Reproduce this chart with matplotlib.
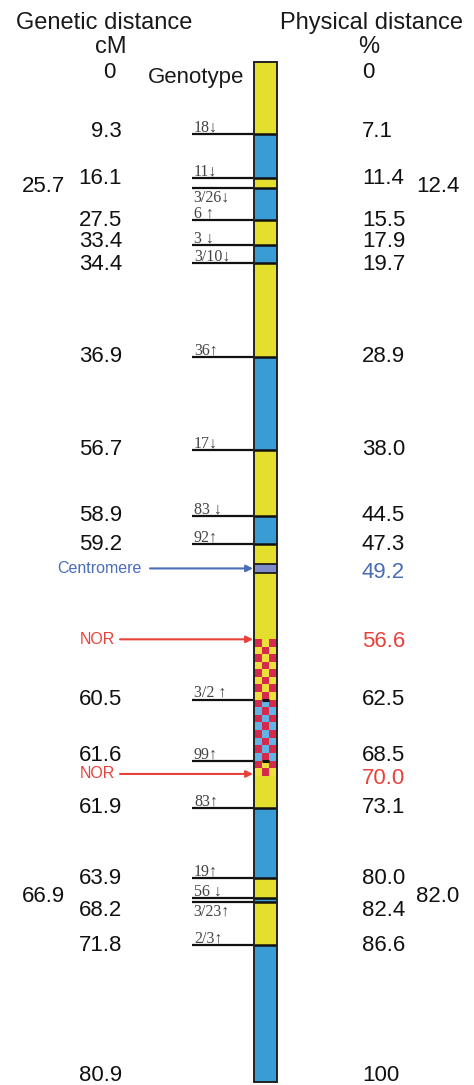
import matplotlib
matplotlib.use("Agg")
import matplotlib.pyplot as plt
import numpy as np
from matplotlib.colors import ListedColormap

# ---------------- data ----------------
# genotype segments along the chromosome (physical %)
seg_start = [0, 7.1, 11.4, 12.4, 15.5, 17.9, 19.7, 28.9, 38.0, 44.5, 47.3,
             56.6, 62.5, 68.5, 70.0, 73.1, 80.0, 82.0, 82.4, 86.6]
seg_end = [7.1, 11.4, 12.4, 15.5, 17.9, 19.7, 28.9, 38.0, 44.5, 47.3, 56.6,
           62.5, 68.5, 70.0, 73.1, 80.0, 82.0, 82.4, 86.6, 100]
seg_type = ['Y', 'B', 'Y', 'B', 'Y', 'B', 'Y', 'B', 'Y', 'B', 'Y',
            'NY', 'NB', 'NY', 'Y', 'B', 'Y', 'B', 'Y', 'B']

# markers (physical %) and their labels
marker_pos = [7.1, 11.4, 12.4, 15.5, 17.9, 19.7, 28.9, 38.0, 44.5, 47.3,
              62.5, 68.5, 73.1, 80.0, 82.0, 82.4, 86.6]
marker_label = ['18\u2193', '11\u2193', '3/26\u2193', '6 \u2191', '3 \u2193', '3/10\u2193',
                '36\u2191', '17\u2193', '83 \u2193', '92\u2191', '3/2 \u2191', '99\u2191',
                '83\u2191', '19\u2191', '56 \u2193', '3/23\u2191', '2/3\u2191']
marker_below = [False, False, True, False, False, False, False, False, False, False,
                False, False, False, False, False, True, False]

# genetic distance labels (cM) placed at physical positions
gen_label = ['0', '9.3', '16.1', '27.5', '33.4', '34.4', '36.9', '56.7', '58.9', '59.2',
             '60.5', '61.6', '61.9', '63.9', '68.2', '71.8', '80.9']
gen_pos = [0, 7.1, 11.4, 15.5, 17.9, 19.7, 28.9, 38.0, 44.5, 47.3,
           62.5, 68.5, 73.1, 80.0, 82.4, 86.6, 100]
gen_extra_label = ['25.7', '66.9']
gen_extra_pos = [12.4, 82.0]

# physical distance labels (%)
phys_label = ['0', '7.1', '11.4', '15.5', '17.9', '19.7', '28.9', '38.0', '44.5', '47.3',
              '62.5', '68.5', '73.1', '80.0', '82.4', '86.6', '100']
phys_pos = [0, 7.1, 11.4, 15.5, 17.9, 19.7, 28.9, 38.0, 44.5, 47.3,
            62.5, 68.5, 73.1, 80.0, 82.4, 86.6, 100]
phys_extra_label = ['12.4', '82.0']
phys_extra_pos = [12.4, 82.0]

centromere_pos = 49.2
nor_pos = [56.6, 70.0]
nor_label = ['56.6', '70.0']

# ---------------- style ----------------
W, H = 474, 1085
YEL = '#E4DE2C'
BLU = '#3A9CD4'
RED = '#D62A4C'
LBLU = '#62B4E4'
CEN = '#7F8CCB'
CBLUE = '#4A6DB8'
CRED = '#E8413A'
SANS = ['Liberation Sans', 'DejaVu Sans']
SERIF = ['Liberation Serif', 'DejaVu Serif']

bar_l, bar_r = 254, 277
top_px, bot_px = 62, 1082
scale = (bot_px - top_px) / 100.0

fig = plt.figure(figsize=(W / 100, H / 100), dpi=100)
ax = fig.add_axes([0, 0, 1, 1])
ax.set_xlim(0, W)
ax.set_ylim(100 + (H - bot_px) / scale, -top_px / scale)
ax.axis('off')

# ---------------- bar ----------------
cell = 0.72
for s, e, t in zip(seg_start, seg_end, seg_type):
    if t in ('Y', 'B'):
        ax.add_patch(plt.Rectangle((bar_l, s), bar_r - bar_l, e - s,
                                   facecolor=YEL if t == 'Y' else BLU,
                                   edgecolor='none', zorder=1))
    else:
        bg = '#EEDF3A' if t == 'NY' else LBLU
        n = max(1, int(round((e - s) / cell)))
        xs = np.linspace(bar_l, bar_r, 4)
        ys = np.linspace(s, e, n + 1)
        ii, jj = np.meshgrid(np.arange(3), np.arange(n))
        z = ((ii + jj) % 2).astype(float)
        ax.pcolormesh(xs, ys, z, cmap=ListedColormap([RED, bg]), vmin=0, vmax=1,
                      zorder=1, shading='flat')

# boundaries between segments
for k in range(1, len(seg_start)):
    a, b = seg_type[k - 1], seg_type[k]
    y = seg_start[k]
    if a in ('Y', 'B') and b in ('Y', 'B'):
        ax.plot([bar_l, bar_r], [y, y], color='#111111', lw=1.8, zorder=3,
                solid_capstyle='butt')
    elif a.startswith('N') and b.startswith('N'):
        third = (bar_r - bar_l) / 3
        ax.plot([bar_l + third, bar_r - third], [y, y], color='#111111', lw=2.2,
                zorder=3, solid_capstyle='butt')

# centromere band
cen_h = 0.9
ax.add_patch(plt.Rectangle((bar_l, centromere_pos), bar_r - bar_l, cen_h,
                           facecolor=CEN, edgecolor='#111111', lw=1.2, zorder=2))

# bar outline
ax.add_patch(plt.Rectangle((bar_l, 0), bar_r - bar_l, 100, facecolor='none',
                           edgecolor='#222222', lw=1.4, zorder=4))

# ---------------- markers ----------------
for p, lab, below in zip(marker_pos, marker_label, marker_below):
    ax.plot([192, bar_l], [p, p], color='#111111', lw=1.6, zorder=3,
            solid_capstyle='butt')
    if below:
        ax.text(193, p + 0.15, lab, ha='left', va='top', fontsize=11.5,
                family=SERIF, color='#444444')
    else:
        ax.text(194, p - 0.25, lab, ha='left', va='baseline', fontsize=11.5,
                family=SERIF, color='#444444')

# ---------------- labels ----------------
def yoff(p):
    if p == 0:
        return 1.0
    if p == 100:
        return -0.6
    if p == 82.4:
        return 0.8
    if p == 68.5:
        return -0.5
    if p == 17.9:
        return -0.3
    if p == 19.7:
        return 0.2
    if p == 7.1:
        return -0.3
    return 0.0

NUM_FS = 16
for lab, p in zip(gen_label, gen_pos):
    x = 116 if lab == '0' else 122
    ax.text(x, p + yoff(p), lab, ha='right', va='center', fontsize=NUM_FS,
            family=SANS, color='#111111')
for lab, p in zip(gen_extra_label, gen_extra_pos):
    ax.text(65, p - 0.2, lab, ha='right', va='center', fontsize=NUM_FS,
            family=SANS, color='#111111')
for lab, p in zip(phys_label, phys_pos):
    ax.text(362, p + yoff(p), lab, ha='left', va='center', fontsize=NUM_FS,
            family=SANS, color='#111111')
for lab, p in zip(phys_extra_label, phys_extra_pos):
    ax.text(416, p - 0.2, lab, ha='left', va='center', fontsize=NUM_FS,
            family=SANS, color='#111111')

# centromere
cy = centromere_pos + cen_h / 2
ax.annotate('', xy=(bar_l - 1, cy), xytext=(150, cy),
            arrowprops=dict(arrowstyle='-|>', color=CBLUE, lw=1.5,
                            mutation_scale=10, shrinkA=0, shrinkB=0))
ax.text(142, cy, 'Centromere', ha='right', va='center', fontsize=11.5,
        family=SANS, color=CBLUE)
ax.text(362, centromere_pos + 0.8, f'{centromere_pos:.1f}', ha='left', va='center',
        fontsize=NUM_FS, family=SANS, color=CBLUE)

# NOR
for p, lab in zip(nor_pos, nor_label):
    ay = p if p < 60 else p - 0.2
    ax.annotate('', xy=(bar_l - 1, ay), xytext=(120, ay),
                arrowprops=dict(arrowstyle='-|>', color=CRED, lw=1.5,
                                mutation_scale=10, shrinkA=0, shrinkB=0))
    ax.text(115, ay, 'NOR', ha='right', va='center', fontsize=11.5,
            family=SANS, color=CRED)
    ax.text(362, p + 0.25, lab, ha='left', va='center', fontsize=NUM_FS,
            family=SANS, color=CRED)

# headers
def fpx(x, y):
    return x / W, 1 - y / H

fig.text(*fpx(104, 23), 'Genetic distance', ha='center', va='center',
         fontsize=17, family=SANS, color='#1a1a1a')
fig.text(*fpx(111, 47), 'cM', ha='center', va='center',
         fontsize=17, family=SANS, color='#1a1a1a')
fig.text(*fpx(372, 23), 'Physical distance', ha='center', va='center',
         fontsize=17, family=SANS, color='#1a1a1a')
fig.text(*fpx(369, 47), '%', ha='center', va='center',
         fontsize=17, family=SANS, color='#1a1a1a')
fig.text(*fpx(244, 78), 'Genotype', ha='right', va='center',
         fontsize=16, family=SANS, color='#1a1a1a')

fig.savefig('out.png', dpi=100, facecolor='white')
